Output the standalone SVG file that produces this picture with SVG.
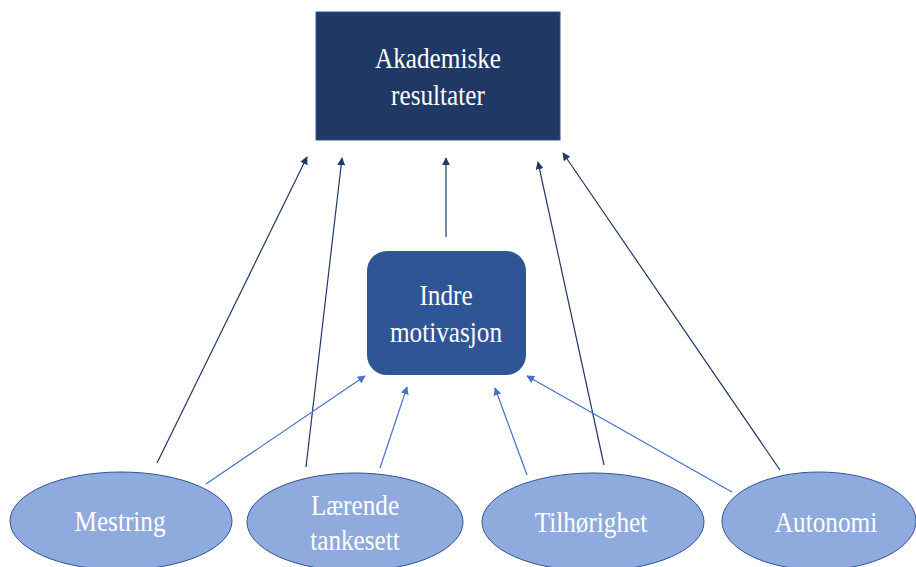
<svg xmlns="http://www.w3.org/2000/svg" width="916" height="567" viewBox="0 0 916 567">
<style>
.t{font-family:"Liberation Serif","Times New Roman",serif;font-size:29px;fill:#fff;text-anchor:middle}
.ell{fill:#8faadc;stroke:#2f5597;stroke-width:1}
.dk{stroke:#203864;stroke-width:1.2;fill:none;marker-end:url(#ad)}
.lt{stroke:#4472c4;stroke-width:1.2;fill:none;marker-end:url(#al)}
</style>
<defs>
<marker id="ad" viewBox="0 0 10 10" refX="9" refY="5" markerWidth="8" markerHeight="8" orient="auto" markerUnits="userSpaceOnUse"><path d="M0,0 L10,5 L0,10 z" fill="#203864"/></marker>
<marker id="al" viewBox="0 0 10 10" refX="9" refY="5" markerWidth="8" markerHeight="8" orient="auto" markerUnits="userSpaceOnUse"><path d="M0,0 L10,5 L0,10 z" fill="#4472c4"/></marker>
</defs>
<rect width="916" height="567" fill="#fff"/>
<g id="connectors">
<line class="dk" x1="157" y1="463" x2="307" y2="157"/>
<line class="dk" x1="306" y1="467" x2="342" y2="158"/>
<line class="dk" x1="446" y1="237" x2="446" y2="158"/>
<line class="dk" x1="604" y1="465" x2="538" y2="162"/>
<line class="dk" x1="780" y1="470" x2="563" y2="153"/>
<line class="lt" x1="206" y1="484" x2="365" y2="376"/>
<line class="lt" x1="380" y1="468" x2="407" y2="387"/>
<line class="lt" x1="527" y1="475" x2="495" y2="388"/>
<line class="lt" x1="732" y1="492" x2="527" y2="376"/>
</g>
<g id="akademiske">
<rect x="316" y="12" width="244" height="128" fill="#203864" stroke="#2f5597" stroke-width="1"/>
<text class="t" transform="translate(438,68) scale(0.87,1)">Akademiske</text>
<text class="t" transform="translate(438,105) scale(0.87,1)">resultater</text>
</g>
<g id="indre">
<rect x="367" y="251" width="159" height="124" rx="20" fill="#2f5597"/>
<text class="t" transform="translate(446,305) scale(0.87,1)">Indre</text>
<text class="t" transform="translate(446,342) scale(0.87,1)">motivasjon</text>
</g>
<g id="mestring">
<ellipse class="ell" cx="121" cy="521" rx="111" ry="49"/>
<text class="t" transform="translate(120,531) scale(0.87,1)">Mestring</text>
</g>
<g id="laerende">
<ellipse class="ell" cx="355" cy="522" rx="108" ry="49"/>
<text class="t" transform="translate(355,515) scale(0.87,1)">Lærende</text>
<text class="t" transform="translate(355,550) scale(0.87,1)">tankesett</text>
</g>
<g id="tilhorighet">
<ellipse class="ell" cx="593" cy="522" rx="111" ry="49"/>
<text class="t" transform="translate(591,532) scale(0.87,1)">Tilhørighet</text>
</g>
<g id="autonomi">
<ellipse class="ell" cx="819" cy="521" rx="97" ry="49"/>
<text class="t" transform="translate(826,532) scale(0.87,1)">Autonomi</text>
</g>
</svg>
